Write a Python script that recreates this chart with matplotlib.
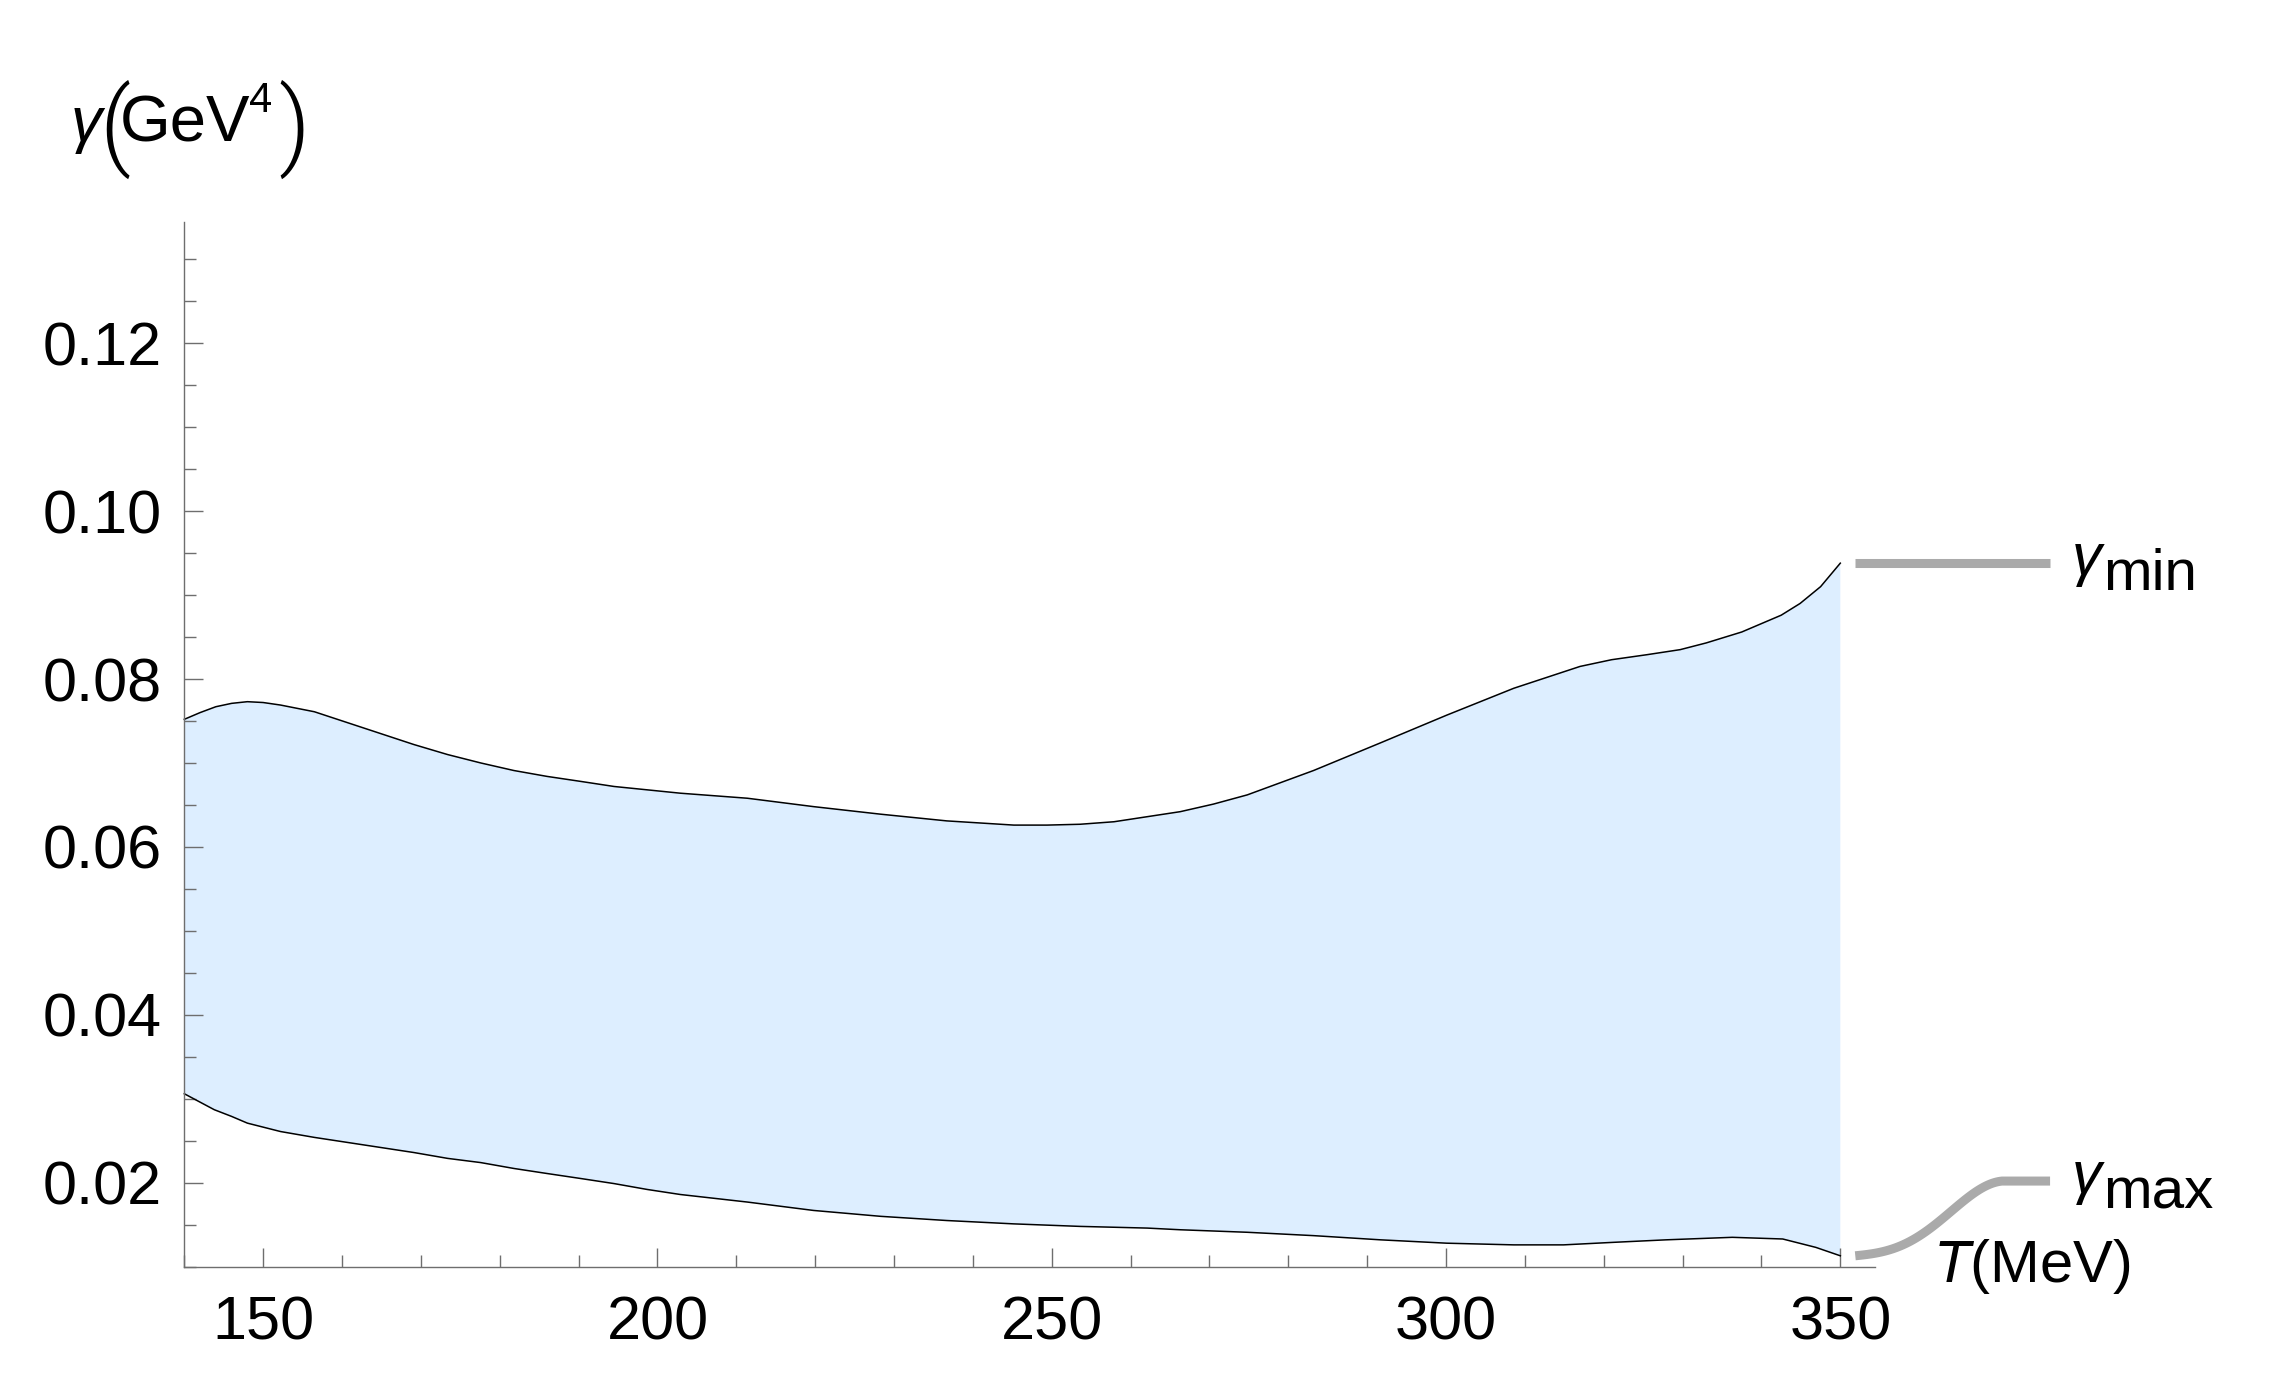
import numpy as np
import matplotlib
matplotlib.use("Agg")
import matplotlib.pyplot as plt
from matplotlib.ticker import MultipleLocator, FixedLocator

plt.rcParams["font.family"] = ["Liberation Sans", "DejaVu Sans"]
plt.rcParams["mathtext.fontset"] = "custom"
plt.rcParams["mathtext.rm"] = "Liberation Sans"
plt.rcParams["mathtext.it"] = "Liberation Sans:italic"
plt.rcParams["mathtext.bf"] = "Liberation Sans:bold"

# gamma_min boundary (upper edge of the band)
T_upper = [140.0, 142.0, 144.0, 146.0, 148.0, 150.0, 152.2, 156.5, 160.7, 164.9,
           169.1, 173.4, 177.6, 181.8, 186.0, 190.3, 194.5, 198.7, 202.9, 211.4,
           219.8, 228.3, 236.7, 245.2, 249.4, 253.6, 257.9, 262.1, 266.3, 270.5,
           274.8, 283.2, 291.7, 300.1, 308.6, 317.0, 321.0, 325.5, 329.7, 333.0,
           337.5, 342.5, 344.9, 347.5, 350.0]
gamma_upper = [0.0752, 0.0760, 0.0767, 0.0771, 0.0773, 0.0772, 0.0769, 0.0761, 0.0748, 0.0735,
               0.0722, 0.0710, 0.0700, 0.0691, 0.0684, 0.0678, 0.0672, 0.0668, 0.0664, 0.0658,
               0.0648, 0.0639, 0.0631, 0.0626, 0.0626, 0.0627, 0.0630, 0.0636, 0.0642, 0.0651,
               0.0662, 0.0691, 0.0724, 0.0757, 0.0789, 0.0815, 0.0823, 0.0829, 0.0835, 0.0843,
               0.0856, 0.0876, 0.0890, 0.0910, 0.0938]

# gamma_max boundary (lower edge of the band)
T_lower = [140.0, 142.0, 143.8, 146.0, 148.0, 152.2, 156.5, 160.7, 164.9, 169.1,
           173.4, 177.6, 181.8, 186.0, 190.3, 194.5, 198.7, 202.9, 211.4, 219.8,
           228.3, 236.7, 245.2, 253.6, 262.1, 266.3, 274.8, 283.2, 291.7, 300.1,
           308.6, 314.9, 321.2, 327.9, 336.3, 342.7, 346.9, 350.0]
gamma_lower = [0.0306, 0.0296, 0.0287, 0.0279, 0.0271, 0.0261, 0.0254, 0.0248, 0.0242, 0.0236,
               0.0229, 0.0224, 0.0217, 0.0211, 0.0205, 0.0199, 0.0192, 0.0186, 0.0177, 0.0167,
               0.0160, 0.0155, 0.0151, 0.0148, 0.0146, 0.0144, 0.0141, 0.0137, 0.0132, 0.0128,
               0.0126, 0.0126, 0.0129, 0.0132, 0.0135, 0.0133, 0.0123, 0.0113]

x_ticks = [150, 200, 250, 300, 350]
y_ticks = [0.02, 0.04, 0.06, 0.08, 0.10, 0.12]
y_tick_labels = ["0.02", "0.04", "0.06", "0.08", "0.10", "0.12"]

W, H = 2274, 1398
fig = plt.figure(figsize=(W / 100, H / 100), dpi=100)
ax = fig.add_axes([184.3 / W, 1 - 1266.7 / H, (1875 - 184.3) / W, (1266.7 - 222.3) / H])
ax.set_xlim(140, 354.4)
ax.set_ylim(0.01, 0.1344)


def px_text(x, y, s, **kw):
    # place text by pixel position, measured from the top-left corner
    return fig.text(x / W, 1 - y / H, s, **kw)


band_x = np.concatenate([T_upper, T_lower[::-1]])
band_y = np.concatenate([gamma_upper, gamma_lower[::-1]])
ax.fill(band_x, band_y, color="#ddeeff", lw=0)
ax.plot(T_upper, gamma_upper, color="black", lw=1.1, clip_on=False)
ax.plot(T_lower, gamma_lower, color="black", lw=1.1, clip_on=False)

axis_col = "#6e6e6e"
for side in ["top", "right"]:
    ax.spines[side].set_visible(False)
for side in ["left", "bottom"]:
    ax.spines[side].set_color(axis_col)
    ax.spines[side].set_linewidth(1.0)

ax.xaxis.set_major_locator(FixedLocator(x_ticks))
ax.xaxis.set_minor_locator(MultipleLocator(10))
ax.yaxis.set_major_locator(FixedLocator(y_ticks))
ax.yaxis.set_minor_locator(MultipleLocator(0.005))
ax.set_yticklabels(y_tick_labels)
ax.tick_params(which="both", direction="in", color=axis_col, width=1.0, labelsize=44)
ax.tick_params(which="major", length=14)
ax.tick_params(which="minor", length=8.5)
ax.tick_params(axis="x", which="major", pad=21)
ax.tick_params(axis="y", which="major", pad=16)

# leader lines to the curve labels
lead_col = "#aaaaaa"
x0, x1 = 351.9, 376.6
y_min_end = gamma_upper[-1]
ax.plot([x0, x1], [y_min_end, y_min_end], color=lead_col, lw=6.5,
        solid_capstyle="butt", clip_on=False)

y_max_end = gamma_lower[-1]
y_max_lab = 0.0202
t = np.linspace(0, 1, 80)
xs = x0 + (370.5 - x0) * t
frac = 0.8 * (0.5 - 0.5 * np.cos(np.pi * t ** 1.4)) + 0.2 * t
ys = y_max_end + (y_max_lab - y_max_end) * frac
xs = np.append(xs, x1)
ys = np.append(ys, y_max_lab)
ax.plot(xs, ys, color=lead_col, lw=6.5, solid_capstyle="butt", clip_on=False)

for y_lab, sub in [(y_min_end, "min"), (y_max_lab, "max")]:
    ax.annotate("γ", xy=(379.4, y_lab), xytext=(0, -8.6), textcoords="offset points",
                fontsize=43, style="italic", va="baseline", ha="left", annotation_clip=False)
    ax.annotate(sub, xy=(379.4, y_lab), xytext=(22, -19.4), textcoords="offset points",
                fontsize=42, va="baseline", ha="left", annotation_clip=False)

# axis labels
px_text(1933, 1281.7, r"$T(\mathrm{MeV})$", fontsize=43, va="baseline", ha="left")
px_text(71, 141, "γ", fontsize=45, style="italic", va="baseline", ha="left")
px_text(114.5, 129, "(", fontsize=70, family="Roboto", fontweight=300,
        va="center", ha="center")
px_text(120, 141, "GeV", fontsize=47, va="baseline", ha="left")
px_text(249, 112, "4", fontsize=30, va="baseline", ha="left")
px_text(294.5, 129, ")", fontsize=70, family="Roboto", fontweight=300,
        va="center", ha="center")

fig.savefig("out.png", dpi=100)
